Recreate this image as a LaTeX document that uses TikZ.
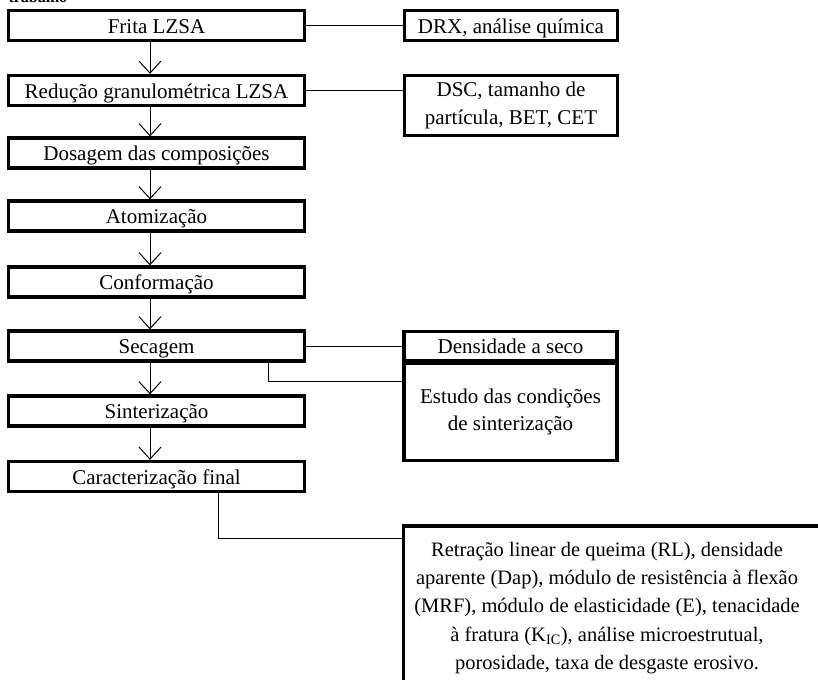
\documentclass[tikz,border=0pt]{standalone}
\usepackage{fontspec}
\setmainfont{Liberation Serif}
\usetikzlibrary{arrows.meta}
\begin{document}
\begin{tikzpicture}[x=1pt,y=-1pt,
  box/.style={draw, line width=3.3pt, rectangle, inner sep=0pt, minimum height=30pt,
    font=\fontsize{21}{27.7}\selectfont},
  oneline/.style={text height=15.6pt, text depth=0pt},
  mainbox/.style={box, oneline, minimum width=296pt},
  sidebox/.style={box, minimum width=213pt},
  line/.style={line width=1pt},
  arr/.style={line width=1pt, -{Straight Barb[length=12pt,width=22pt,line width=1pt]}}]
\useasboundingbox (0,0) rectangle (818,679);
\clip (0,0) rectangle (818,679);
\fill[white] (0,0) rectangle (818,679);

\node[anchor=base west, font=\fontsize{16}{18}\selectfont\bfseries] (title) at (5,2.5) {trabalho};

% main column
\node[mainbox] (frita) at (156.5,25.5) {Frita LZSA};
\node[mainbox] (red)   at (156.5,90.5) {Redução granulométrica LZSA};
\node[mainbox] (dos)   at (156.5,153)  {Dosagem das composições};
\node[mainbox] (atom)  at (156.5,216)  {Atomização};
\node[mainbox] (conf)  at (156.5,282)  {Conformação};
\node[mainbox] (sec)   at (156.5,346)  {Secagem};
\node[mainbox] (sint)  at (156.5,411)  {Sinterização};
\node[mainbox] (car)   at (156.5,476.5){Caracterização final};

% side boxes
\node[sidebox, oneline] (drx) at (511,25.5) {DRX, análise química};
\node[sidebox, minimum height=60pt, align=center] (dsc) at (511,105.5) {DSC, tamanho de\\partícula, BET, CET};
\node[sidebox, minimum height=29pt, oneline] (dens) at (510.5,346) {Densidade a seco};
\node[sidebox, minimum height=97pt, align=center] (est) at (510.5,412) {Estudo das condições\\de sinterização};

% bottom results box (extends beyond the frame)
\node[align=center, inner sep=0pt, font=\fontsize{20.5}{28.3}\selectfont] (res) at (607,608)
  {Retração linear de queima (RL), densidade\\
   aparente (Dap), módulo de resistência à flexão\\
   (MRF), módulo de elasticidade (E), tenacidade\\
   à fratura (K\textsubscript{IC}), análise microestrutual,\\
   porosidade, taxa de desgaste erosivo.};
\coordinate (resNW) at (403.5,526);
\coordinate (resSW) at (403.5,700);
\coordinate (resNE) at (840,526);
\coordinate (resIn) at (402,538.5);
\draw[line width=3.3pt] (resSW) -- (resNW) -- (resNE);

% arrows
\foreach \a/\b in {frita/red, red/dos, dos/atom, atom/conf, conf/sec, sec/sint, sint/car}
  \draw[arr] ([xshift=-6.5pt]\a.south) -- ([xshift=-6.5pt]\b.north);

% side connectors
\draw[line] (frita.east) -- (drx.west);
\draw[line] (red.east) -- (red.east -| dsc.west);
\draw[line] (sec.east) -- (dens.west);
\draw[line] ([xshift=111.5pt]sec.south) |- ([yshift=31pt]est.west);
\draw[line] ([xshift=62pt]car.south) |- (resIn);
\end{tikzpicture}
\end{document}
